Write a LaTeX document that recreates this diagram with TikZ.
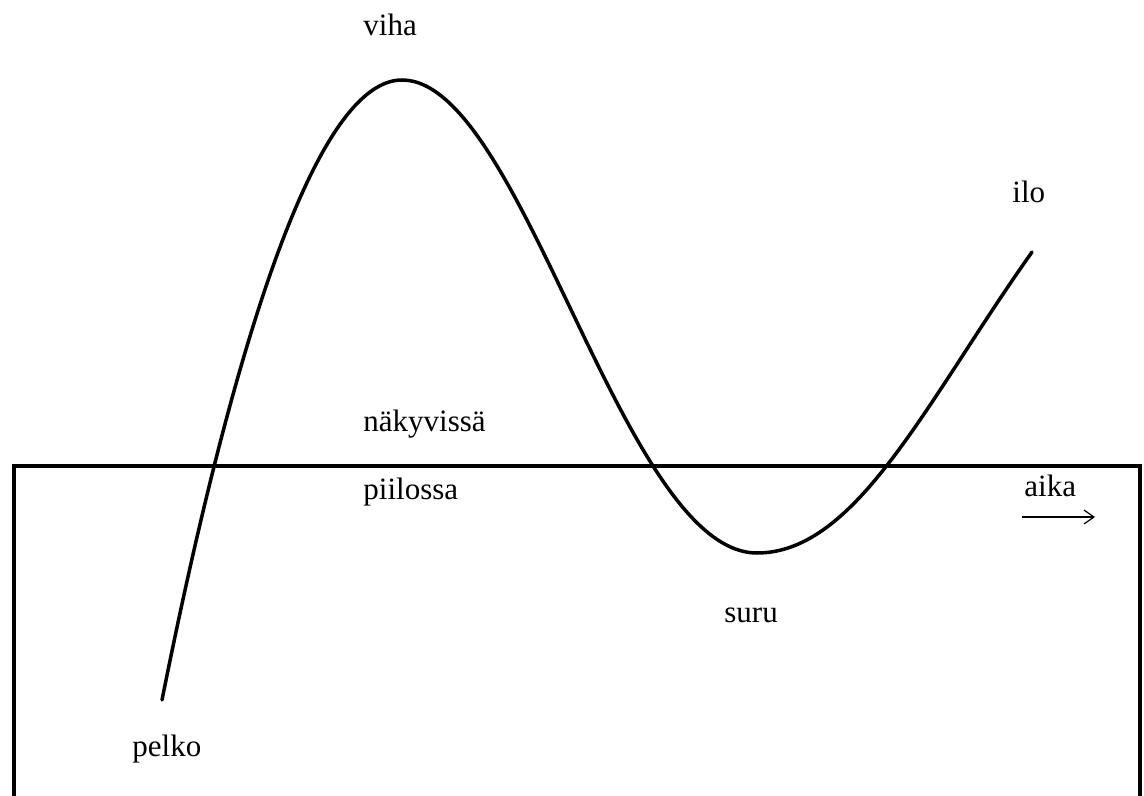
\documentclass[tikz,border=0pt]{standalone}
\usepackage{fontspec}
\setmainfont{Liberation Serif}
\usetikzlibrary{arrows.meta}
\tikzset{
  tunne/.style={font=\fontsize{15.5}{18}\selectfont, inner sep=0pt, anchor=base west},
  raja/.style={line width=2pt},
  kayra/.style={line width=1.75pt, line cap=round},
}
\begin{document}
\begin{tikzpicture}[x=0.5pt,y=-0.5pt,>={Straight Barb[length=5pt,width=7pt]}]
    \useasboundingbox (0,0) rectangle (1144,796);
    % pinta: yla- ja alapuoli
    \draw[raja] (14,466) rectangle (1140,810);
    \node[tunne] (nakyvissa) at (363,431) {näkyvissä};
    \node[tunne] (piilossa) at (363,499) {piilossa};
    % tunteiden kayra
    \draw[kayra] (162,700) .. controls (228,370) and (312,80) .. (402,80)
                 .. controls (523,80) and (622,553) .. (757,553)
                 .. controls (857,553) and (927,400) .. (1032,252);
    \node[tunne] (viha) at (363,36) {viha};
    \node[tunne] (ilo) at (1012,203) {ilo};
    \node[tunne] (suru) at (724,622) {suru};
    \node[tunne] (pelko) at (132,756) {pelko};
    % aika-akseli
    \node[tunne] (aika) at (1024,496) {aika};
    \coordinate (aikaA) at (1022,517);
    \coordinate (aikaB) at (1095,517);
    \draw[->,line width=0.6pt] (aikaA) -- (aikaB);
\end{tikzpicture}
\end{document}
